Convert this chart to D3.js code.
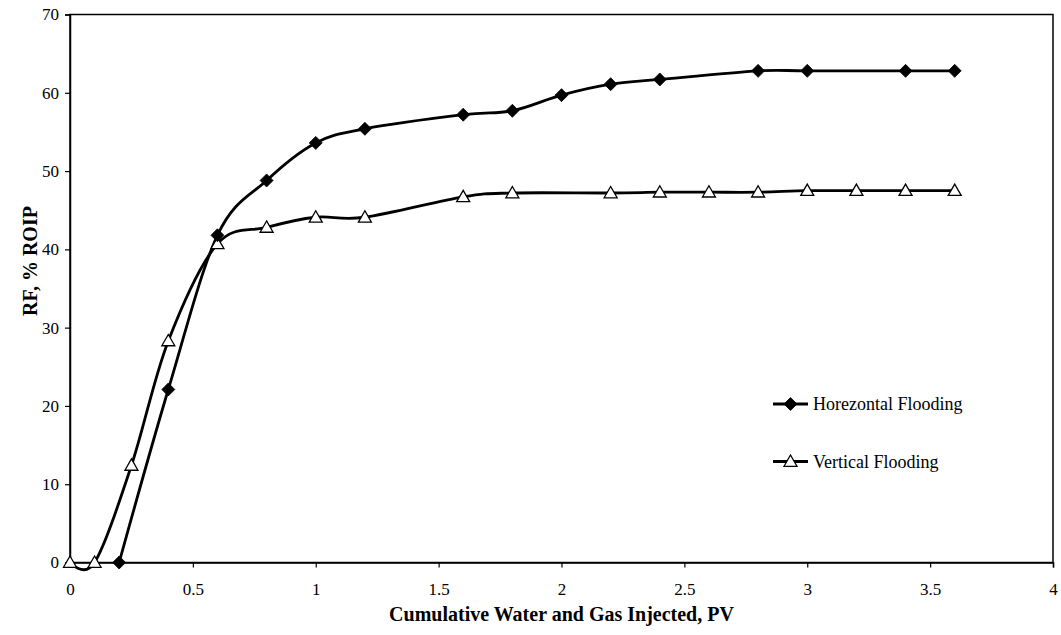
<!DOCTYPE html>
<html>
<head>
<meta charset="utf-8">
<script src="https://cdn.jsdelivr.net/npm/d3@7"></script>
<style>
  html, body { margin: 0; padding: 0; background: #fff; }
  svg { display: block; font-family: "Liberation Serif", "Times New Roman", serif; }
</style>
</head>
<body>
<svg id="chart" width="1061" height="635"></svg>
<script>
// Recovery factor vs. cumulative injection for the two flooding schemes
const horizontalPV = [0.2, 0.4, 0.6, 0.8, 1.0, 1.2, 1.6, 1.8, 2.0, 2.2, 2.4, 2.8, 3.0, 3.4, 3.6];
const horizontalRF = [0, 22.1, 41.8, 48.8, 53.6, 55.4, 57.2, 57.7, 59.7, 61.1, 61.7, 62.8, 62.8, 62.8, 62.8];

const verticalPV = [0, 0.1, 0.25, 0.4, 0.6, 0.8, 1.0, 1.2, 1.6, 1.8, 2.2, 2.4, 2.6, 2.8, 3.0, 3.2, 3.4, 3.6];
const verticalRF = [0, 0, 12.4, 28.3, 40.7, 42.8, 44.1, 44.1, 46.7, 47.2, 47.2, 47.3, 47.3, 47.3, 47.5, 47.5, 47.5, 47.5];

const xTicks = [0, 0.5, 1, 1.5, 2, 2.5, 3, 3.5, 4];
const yTicks = [0, 10, 20, 30, 40, 50, 60, 70];

const seriesNames = ["Horezontal Flooding", "Vertical Flooding"];
const xTitle = "Cumulative Water and Gas Injected, PV";
const yTitle = "RF, % ROIP";

const svg = d3.select("#chart");
const plot = { left: 70, right: 1053, top: 14.5, bottom: 562.5 };

const x = d3.scaleLinear().domain([0, 4]).range([plot.left, plot.right]);
const y = d3.scaleLinear().domain([0, 70]).range([plot.bottom, plot.top]);

// Plot frame
svg.append("rect")
  .attr("x", plot.left).attr("y", plot.top)
  .attr("width", plot.right - plot.left).attr("height", plot.bottom - plot.top)
  .attr("fill", "none").attr("stroke", "#000").attr("stroke-width", 1.5);

// Axes
const yAxis = svg.append("g")
  .attr("transform", `translate(${plot.left},0)`)
  .call(d3.axisLeft(y).tickValues(yTicks).tickSize(5).tickPadding(6).tickFormat(d => String(d)));
const xAxis = svg.append("g")
  .attr("transform", `translate(0,${plot.bottom})`)
  .call(d3.axisBottom(x).tickValues(xTicks).tickSize(5).tickPadding(15).tickFormat(d => String(d)));

[xAxis, yAxis].forEach(g => {
  g.select(".domain").attr("stroke", "#000").attr("stroke-width", 1.5);
  g.selectAll(".tick line").attr("stroke", "#000").attr("stroke-width", 1.2);
  g.selectAll(".tick text")
    .attr("fill", "#000")
    .style("font-family", "'Liberation Serif', 'Times New Roman', serif")
    .style("font-size", "17px");
});

// Axis titles
svg.append("text")
  .attr("x", (plot.left + plot.right) / 2).attr("y", 621)
  .attr("text-anchor", "middle")
  .style("font-size", "20px").style("font-weight", "bold")
  .text(xTitle);

svg.append("text")
  .attr("transform", "translate(37,261) rotate(-90)")
  .attr("text-anchor", "middle")
  .style("font-size", "20px").style("font-weight", "bold")
  .text(yTitle);

// Smoothed lines
const line = d3.line()
  .x(d => x(d[0])).y(d => y(d[1]))
  .curve(d3.curveCardinal.tension(0));

const hData = horizontalPV.map((v, i) => [v, horizontalRF[i]]);
const vData = verticalPV.map((v, i) => [v, verticalRF[i]]);

svg.append("path").datum(hData)
  .attr("d", line).attr("fill", "none").attr("stroke", "#000").attr("stroke-width", 2.8);
svg.append("path").datum(vData)
  .attr("d", line).attr("fill", "none").attr("stroke", "#000").attr("stroke-width", 2.8);

// Markers
const diamond = "M0,-6.5L6.5,0L0,6.5L-6.5,0Z";
const triangle = "M0,-6.5L6.5,4.8L-6.5,4.8Z";

svg.append("g").selectAll("path").data(vData).join("path")
  .attr("transform", d => `translate(${x(d[0])},${y(d[1])})`)
  .attr("d", triangle)
  .attr("fill", "#fff").attr("stroke", "#000").attr("stroke-width", 1.3);

svg.append("g").selectAll("path").data(hData).join("path")
  .attr("transform", d => `translate(${x(d[0])},${y(d[1])})`)
  .attr("d", diamond)
  .attr("fill", "#000").attr("stroke", "#000").attr("stroke-width", 0.8);

// Legend
const legend = svg.append("g");
const legendRows = [
  { name: seriesNames[0], y: 404, kind: "diamond" },
  { name: seriesNames[1], y: 461.5, kind: "triangle" }
];
legendRows.forEach(r => {
  legend.append("line")
    .attr("x1", 773).attr("x2", 808).attr("y1", r.y).attr("y2", r.y)
    .attr("stroke", "#000").attr("stroke-width", 2.8);
  legend.append("path")
    .attr("transform", `translate(790.5,${r.y})`)
    .attr("d", r.kind === "diamond" ? diamond : triangle)
    .attr("fill", r.kind === "diamond" ? "#000" : "#fff")
    .attr("stroke", "#000").attr("stroke-width", r.kind === "diamond" ? 0.8 : 1.3);
  legend.append("text")
    .attr("x", 813).attr("y", r.y + 6)
    .style("font-size", "18px")
    .text(r.name);
});
</script>
</body>
</html>
